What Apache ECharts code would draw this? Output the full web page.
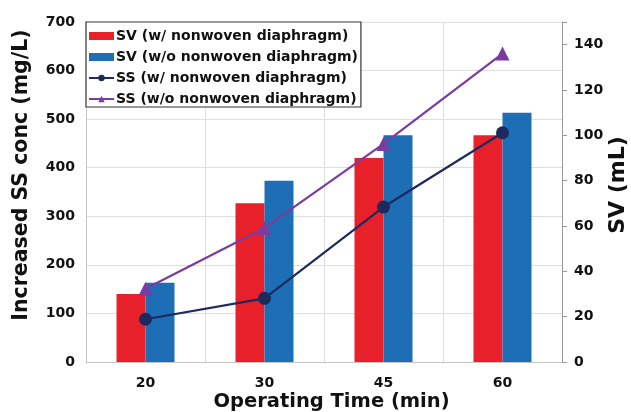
<!DOCTYPE html>
<html><head><meta charset="utf-8">
<script src="https://cdn.jsdelivr.net/npm/echarts@6/dist/echarts.min.js"></script>
<style>html,body{margin:0;padding:0;background:#fff}#c{width:631px;height:412px}</style>
</head><body><div id="c"></div>
<script>
const categories = ['20', '30', '45', '60'];
const svWith = [30, 70, 90, 100];
const svWithout = [35, 80, 100, 110];
const ssWith = [88, 131, 319, 472];
const ssWithout = [151, 276, 449, 635];

const font = '"DejaVu Sans", Arial, sans-serif';
const chart = echarts.init(document.getElementById('c'));
chart.setOption({
  animation: false,
  textStyle: { fontFamily: font },
  grid: { left: 86, right: 69, top: 22, bottom: 50, containLabel: false, outerBoundsMode: 'none' },
  legend: {
    orient: 'vertical', left: 86, top: 22, itemGap: 7, itemWidth: 25, itemHeight: 8,
    backgroundColor: '#fff', borderColor: '#333', borderWidth: 1.2,
    padding: [7, 3, 1, 2],
    textStyle: { fontFamily: font, fontWeight: 'bold', fontSize: 14, color: '#111', padding: [0, 0, 0, -3] },
    data: [
      { name: 'SV (w/ nonwoven diaphragm)', icon: 'rect' },
      { name: 'SV (w/o nonwoven diaphragm)', icon: 'rect' },
      { name: 'SS (w/ nonwoven diaphragm)' },
      { name: 'SS (w/o nonwoven diaphragm)' }
    ]
  },
  xAxis: {
    type: 'category', data: categories,
    name: 'Operating Time (min)', nameLocation: 'middle', nameGap: 30, nameMoveOverlap: false,
    nameTextStyle: { fontFamily: font, fontWeight: 'bold', fontSize: 19.5, color: '#111', padding: [0, 0, 0, 15] },
    axisLine: { lineStyle: { color: '#c4c4c4' } }, axisTick: { show: false },
    axisLabel: { fontFamily: font, fontWeight: 'bold', fontSize: 14, color: '#111', margin: 14 },
    splitLine: { show: true, interval: 0, lineStyle: { color: '#dedede' } }
  },
  yAxis: [
    {
      type: 'value', min: 0, max: 700, interval: 100,
      name: 'Increased SS conc (mg/L)', nameLocation: 'middle', nameGap: 54, nameMoveOverlap: false,
      nameTextStyle: { fontFamily: font, fontWeight: 'bold', fontSize: 20.5, color: '#111', padding: [0, 0, 0, 34] },
      axisLine: { show: true, lineStyle: { color: '#c4c4c4' } }, axisTick: { show: false },
      axisLabel: { fontFamily: font, fontWeight: 'bold', fontSize: 14, color: '#111', margin: 11 },
      splitLine: { lineStyle: { color: '#dedede' } }
    },
    {
      type: 'value', min: 0, max: 150, interval: 20,
      name: 'SV (mL)', nameLocation: 'middle', nameGap: 45, nameMoveOverlap: false,
      nameTextStyle: { fontFamily: font, fontWeight: 'bold', fontSize: 22, color: '#111', padding: [0, 0, 0, 14] },
      axisLine: { show: true, lineStyle: { color: '#999' } },
      axisTick: { show: true, length: 5, lineStyle: { color: '#999' } },
      axisLabel: { fontFamily: font, fontWeight: 'bold', fontSize: 14, color: '#111', margin: 12,
        formatter: v => (v > 140 ? '' : v) },
      splitLine: { show: false }
    }
  ],
  series: [
    { name: 'SV (w/ nonwoven diaphragm)', type: 'bar', yAxisIndex: 1, data: svWith,
      itemStyle: { color: '#E8202A' }, barWidth: 29, barGap: '0%' },
    { name: 'SV (w/o nonwoven diaphragm)', type: 'bar', yAxisIndex: 1, data: svWithout,
      itemStyle: { color: '#1E6EB6' }, barWidth: 29, barGap: '0%' },
    { name: 'SS (w/ nonwoven diaphragm)', type: 'line', yAxisIndex: 0, data: ssWith,
      symbol: 'circle', symbolSize: 13, lineStyle: { color: '#1D2A5E', width: 2.2 },
      itemStyle: { color: '#1D2A5E' } },
    { name: 'SS (w/o nonwoven diaphragm)', type: 'line', yAxisIndex: 0, data: ssWithout,
      symbol: 'triangle', symbolSize: 14, lineStyle: { color: '#7B3BA0', width: 2.2 },
      itemStyle: { color: '#7B3BA0' } }
  ]
});
</script></body></html>
